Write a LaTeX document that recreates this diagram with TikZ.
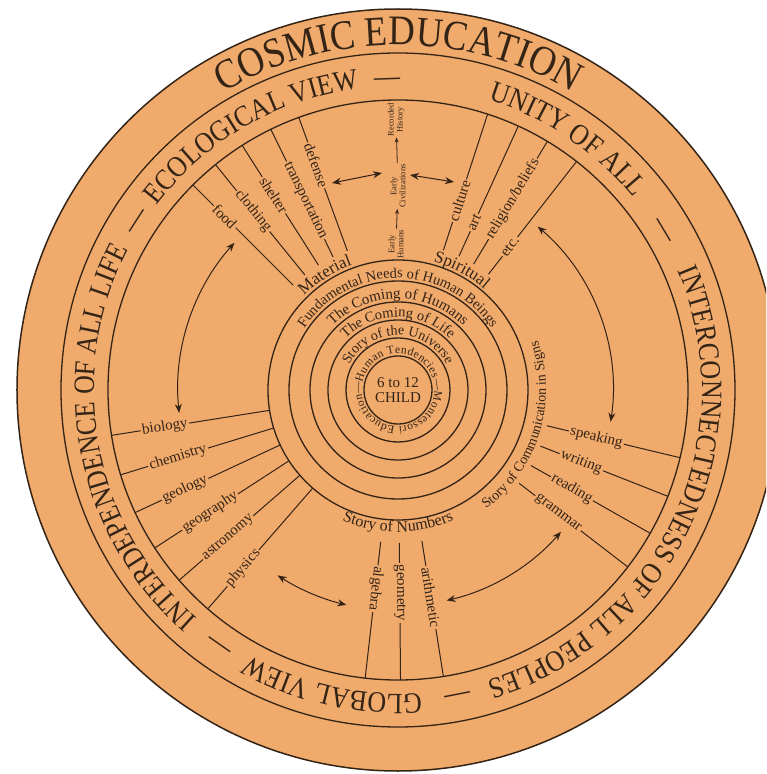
\documentclass[tikz,border=0pt]{standalone}
\usepackage{fontspec}
\setmainfont{Liberation Serif}
\newfontfamily\capsfamily{Liberation Serif}[FakeStretch=0.88]
\usetikzlibrary{arrows.meta, decorations.text}
\definecolor{disk-tan}{RGB}{240,170,108}
\definecolor{ink-brown}{RGB}{52,36,22}
\newcommand{\cosmicfont}{\capsfamily\fontsize{42}{42}\selectfont}
\newcommand{\bandfont}{\capsfamily\fontsize{29.5}{29.5}\selectfont}
\newcommand{\ringfont}{\fontsize{14.5}{14.5}\selectfont}
\newcommand{\storyfont}{\fontsize{16}{16}\selectfont}
\newcommand{\tagfont}{\fontsize{15}{15}\selectfont}
\newcommand{\histfont}{\fontsize{8.5}{9}\selectfont}

\begin{document}
\begin{tikzpicture}[x=1pt, y=1pt,
  ring/.style={draw=ink-brown, line width=1.3pt},
  spoke/.style={draw=ink-brown, line width=1pt},
  lbl/.style={fill=disk-tan, text=ink-brown, inner sep=1.5pt, font=\tagfont},
  hist/.style={rotate=90, align=center, text=ink-brown, font=\histfont, inner sep=1pt},
  dbl/.style={{Stealth[length=9pt, width=7pt]}-{Stealth[length=9pt, width=7pt]}, draw=ink-brown, line width=1pt},
  sgl/.style={-{Stealth[length=5pt, width=4pt]}, draw=ink-brown, line width=0.8pt},
  arctext/.style={decorate, decoration={text along path, text align=center, text={#1}}}
]
  \useasboundingbox (-398,-384) rectangle (368,390);
  \fill[white] (-398,-384) rectangle (368,390);
  \clip (-398,-384) rectangle (368,390);

  % the disk and its rings
  \fill[disk-tan] (0,0) circle[radius=381pt];
  \draw[ring, line width=1.5pt] (0,0) circle[radius=381pt];
  \draw[ring] (0,0) circle[radius=337pt];
  \draw[ring] (0,0) circle[radius=290pt];
  \draw[ring] (0,0) circle[radius=130pt];
  \draw[ring] (0,0) circle[radius=109pt];
  \draw[ring] (0,0) circle[radius=88pt];
  \draw[ring] (0,0) circle[radius=70pt];
  \draw[ring] (0,0) circle[radius=52pt];
  \draw[ring] (0,0) circle[radius=34pt];

  % outer bands
  \path[arctext={|\color{ink-brown}\cosmicfont|COSMIC EDUCATION}] (135:345) arc[start angle=135, end angle=45, radius=345pt];
  \path[arctext={|\color{ink-brown}\bandfont|ECOLOGICAL VIEW}] (150:304) arc[start angle=150, end angle=90, radius=304pt];
  \path[arctext={|\color{ink-brown}\bandfont|—}] (102:304) arc[start angle=102, end angle=82, radius=304pt];
  \path[arctext={|\color{ink-brown}\bandfont|UNITY OF ALL}] (86:304) arc[start angle=86, end angle=26, radius=304pt];
  \path[arctext={|\color{ink-brown}\bandfont|—}] (41:304) arc[start angle=41, end angle=21, radius=304pt];
  \path[arctext={|\color{ink-brown}\bandfont|INTERCONNECTEDNESS OF ALL PEOPLES}] (35:304) arc[start angle=35, end angle=-85, radius=304pt];
  \path[arctext={|\color{ink-brown}\bandfont|—}] (-69:304) arc[start angle=-69, end angle=-89, radius=304pt];
  \path[arctext={|\color{ink-brown}\bandfont|GLOBAL VIEW}] (-72.5:304) arc[start angle=-72.5, end angle=-132.5, radius=304pt];
  \path[arctext={|\color{ink-brown}\bandfont|—}] (-115:304) arc[start angle=-115, end angle=-135, radius=304pt];
  \path[arctext={|\color{ink-brown}\bandfont|INTERDEPENDENCE OF ALL LIFE}] (240.5:304) arc[start angle=240.5, end angle=140.5, radius=304pt];
  \path[arctext={|\color{ink-brown}\bandfont|—}] (157:304) arc[start angle=157, end angle=137, radius=304pt];

  % inner rings
  \node[text=ink-brown, align=center, font=\fontsize{15}{15}\selectfont] (child) at (0,0) {6 to 12\\CHILD};
  \path[decorate, decoration={text along path, text align=fit to path,
        text={|\color{ink-brown}\fontsize{11.5}{11.5}\selectfont|Human Tendencies—Montessori Education—}}]
        (168:36.5) arc[start angle=168, end angle=-192, radius=36.5pt];
  \path[arctext={|\color{ink-brown}\fontsize{14}{14}\selectfont|Story of the Universe}] (175:55) arc[start angle=175, end angle=5, radius=55pt];
  \path[arctext={|\color{ink-brown}\ringfont|The Coming of Life}] (165:73) arc[start angle=165, end angle=15, radius=73pt];
  \path[arctext={|\color{ink-brown}\fontsize{15}{15}\selectfont|The Coming of Humans}] (160:91.5) arc[start angle=160, end angle=20, radius=91.5pt];
  \path[arctext={|\color{ink-brown}\ringfont|Fundamental Needs of Human Beings}] (165:112) arc[start angle=165, end angle=15, radius=112pt];

  % Material needs
  \path[arctext={|\color{ink-brown}\fontsize{17}{17}\selectfont|Material}] (142:133) arc[start angle=142, end angle=103, radius=133pt];
  \draw[spoke] (135:148) -- (135:290);
  \node[lbl, rotate=-45] (food) at (135:245) {food};
  \draw[spoke] (129:148) -- (129:290);
  \node[lbl, rotate=-51] (clothing) at (129:230) {clothing};
  \draw[spoke] (122.5:148) -- (122.5:290);
  \node[lbl, rotate=-57.5] (shelter) at (122.5:231) {shelter};
  \draw[spoke] (116:148) -- (116:290);
  \node[lbl, rotate=-64] (transport) at (116:211) {transportation};
  \draw[spoke] (110:148) -- (110:290);
  \node[lbl, rotate=-70] (defense) at (110:239) {defense};

  % Spiritual needs
  \path[arctext={|\color{ink-brown}\fontsize{17}{17}\selectfont|Spiritual}] (82:133) arc[start angle=82, end angle=42, radius=133pt];
  \draw[spoke] (72:147) -- (72:290);
  \node[lbl, rotate=72] (culture) at (72:199) {culture};
  \draw[spoke] (65.5:147) -- (65.5:290);
  \node[lbl, rotate=65.5] (art) at (65.5:184) {art};
  \draw[spoke] (59:147) -- (59:290);
  \node[lbl, rotate=59] (religion) at (59:223) {religion/beliefs};
  \draw[spoke] (52:147) -- (52:290);
  \node[lbl, rotate=52] (etc) at (52:182) {etc.};

  % history in the middle
  \node[hist] (humans) at (-2,146) {Early\\Humans};
  \node[hist] (civs) at (0,204) {Early\\Civilizations};
  \node[hist] (recorded) at (-2,270) {Recorded\\History};
  \draw[sgl] (humans) -- (civs);
  \draw[sgl] (civs) -- (recorded);
  \coordinate (mat-arr) at (-66,207);
  \coordinate (civ-arr-l) at (-16,217);
  \coordinate (civ-arr-r) at (12,215);
  \coordinate (spi-arr) at (56,208);
  \draw[dbl] (mat-arr) -- (civ-arr-l);
  \draw[dbl] (civ-arr-r) -- (spi-arr);

  % sciences
  \draw[spoke] (189:130) -- (189:290);
  \node[lbl, rotate=9] (biology) at (189:236) {biology};
  \draw[spoke] (197:130) -- (197:290);
  \node[lbl, rotate=17] (chemistry) at (197:230) {chemistry};
  \draw[spoke] (205:130) -- (205:290);
  \node[lbl, rotate=25] (geology) at (205:235) {geology};
  \draw[spoke] (213:130) -- (213:290);
  \node[lbl, rotate=33] (geography) at (213:224) {geography};
  \draw[spoke] (221:130) -- (221:290);
  \node[lbl, rotate=41] (astronomy) at (221:225) {astronomy};
  \draw[spoke] (229:130) -- (229:290);
  \node[lbl, rotate=49] (physics) at (229:236) {physics};

  % Story of Numbers
  \path[arctext={|\color{ink-brown}\storyfont|Story of Numbers}] (230:142) arc[start angle=230, end angle=310, radius=142pt];
  \draw[spoke] (263.5:153) -- (263.5:290);
  \node[lbl, rotate=-96.5] (algebra) at (263.5:200) {algebra};
  \draw[spoke] (270.5:153) -- (270.5:290);
  \node[lbl, rotate=-89.5] (geometry) at (270.5:203) {geometry};
  \draw[spoke] (279:153) -- (279:290);
  \node[lbl, rotate=-81] (arithmetic) at (279:210) {arithmetic};

  % Story of Communication in Signs
  \path[arctext={|\color{ink-brown}\fontsize{14}{14}\selectfont|Story of Communication in Signs}] (-67:148) arc[start angle=-67, end angle=33, radius=148pt];
  \draw[spoke] (-13.5:153) -- (-13.5:290);
  \node[lbl, rotate=-13.5] (speaking) at (-13.5:204) {speaking};
  \draw[spoke] (-21.5:153) -- (-21.5:290);
  \node[lbl, rotate=-21.5] (writing) at (-21.5:197) {writing};
  \draw[spoke] (-29.6:153) -- (-29.6:290);
  \node[lbl, rotate=-29.6] (reading) at (-29.6:200) {reading};
  \draw[spoke] (-37.6:153) -- (-37.6:290);
  \node[lbl, rotate=-37.6] (grammar) at (-37.6:202) {grammar};

  % links between the groups
  \coordinate (link-nw) at (138:220);
  \draw[dbl] (link-nw) arc[start angle=138, end angle=186, radius=220pt];
  \coordinate (link-ne) at (49.5:215);
  \draw[dbl] (link-ne) arc[start angle=49.5, end angle=-8.5, radius=215pt];
  \coordinate (link-sw) at (237:221);
  \draw[dbl] (link-sw) arc[start angle=237, end angle=256.5, radius=221pt];
  \coordinate (link-se) at (283:216);
  \draw[dbl] (link-se) arc[start angle=283, end angle=319, radius=216pt];

\end{tikzpicture}
\end{document}
